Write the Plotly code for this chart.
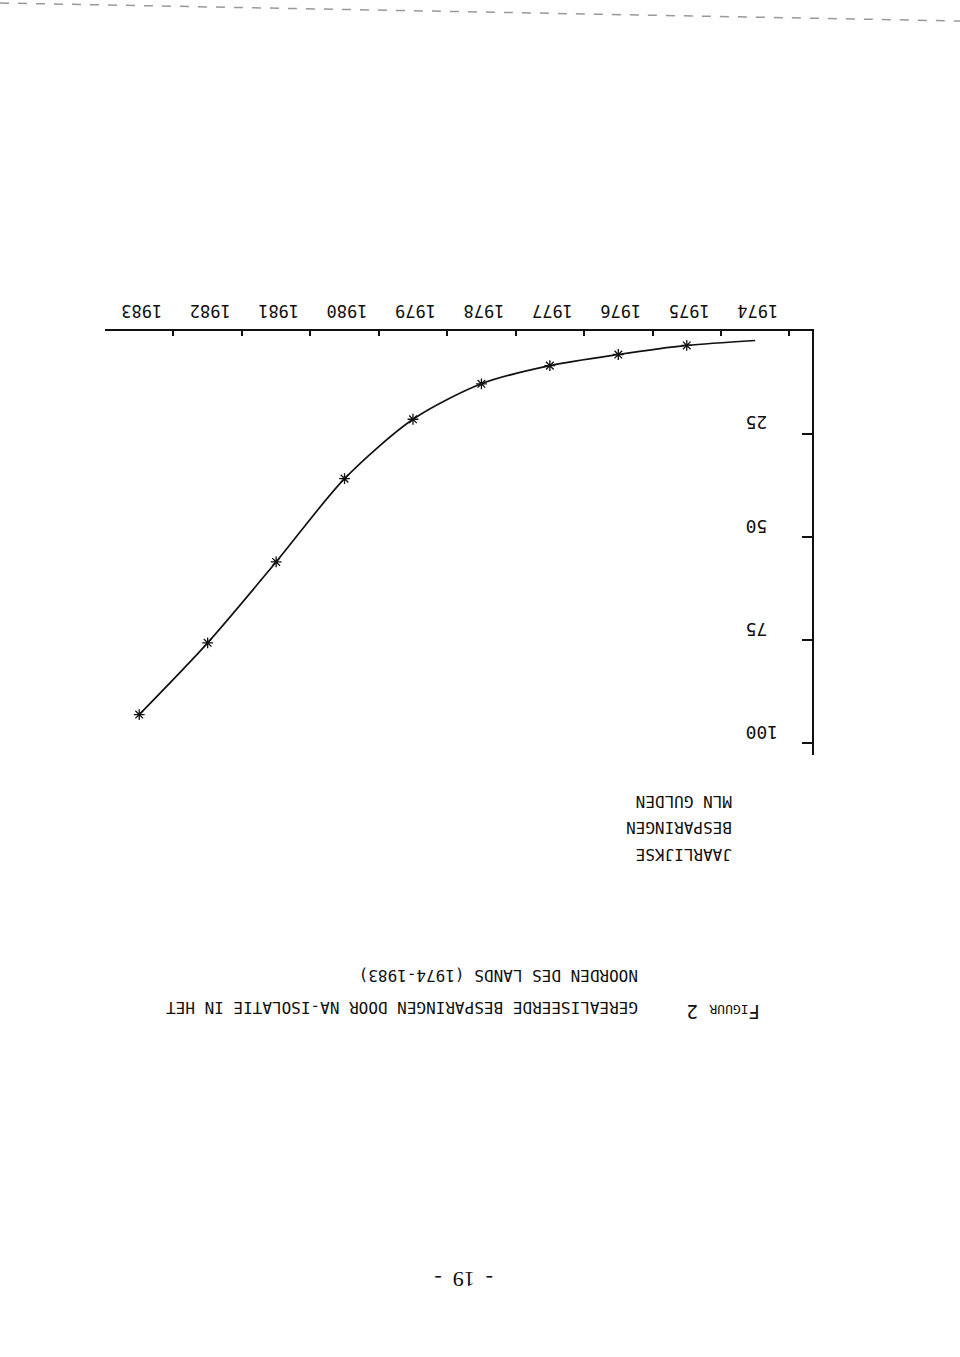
import plotly.graph_objects as go

# ---- data (read from the scanned, upside-down figure) ----
years = [1974, 1975, 1976, 1977, 1978, 1979, 1980, 1981, 1982, 1983]
savings = [2.3, 3.5, 5.7, 8.4, 12.8, 21.4, 35.8, 56.0, 75.6, 93.0]   # mln gulden
marked_years = years[1:]
marked_savings = savings[1:]
year_labels = [str(y) for y in years]
y_ticks = [25, 50, 75, 100]
y_title_lines = ["JAARLIJKSE", "BESPARINGEN", "MLN GULDEN"]
fig_label = "F<span style='font-size:13px'>IGUUR</span> 2"
title_lines = ["GEREALISEERDE BESPARINGEN DOOR NA-ISOLATIE IN HET",
               "NOORDEN DES LANDS (1974-1983)"]
page_number = "-  19  -"

W, H = 960, 1357
L, R, T, B = 105, 148, 331, 602
PW, PH = W - L - R, H - T - B


def px(x):
    return (x - L) / PW


def py(y):
    return (H - B - y) / PH


MONO = "DejaVu Sans Mono"
INK = "#111111"

fig = go.Figure()
fig.add_trace(go.Scatter(x=years, y=savings, mode="lines",
                         line=dict(color=INK, width=1.7, shape="spline", smoothing=0.8),
                         hoverinfo="skip", showlegend=False))
fig.add_trace(go.Scatter(x=marked_years, y=marked_savings, mode="markers",
                         marker=dict(symbol="asterisk-open", size=9, color=INK,
                                     line=dict(color=INK, width=1.3)),
                         showlegend=False))

fig.update_xaxes(side="top", range=[1983.5, 1973.17],
                 tickvals=years, ticktext=year_labels, ticks="",
                 tickangle=180, ticklabelshift=-23, ticklabeloverflow="allow",
                 tickfont=dict(family=MONO, size=17, color=INK),
                 showline=True, linecolor=INK, linewidth=2,
                 showgrid=False, zeroline=False,
                 minor=dict(tickvals=[y + 0.5 for y in [1973] + years[:-1]],
                            ticks="inside", ticklen=5, tickwidth=1.5, tickcolor=INK,
                            showgrid=False))
fig.update_yaxes(side="right", range=[102.8, 0],
                 tickvals=y_ticks, ticks="inside", ticklen=10, tickwidth=1.5,
                 tickcolor=INK, ticklabelposition="inside",
                 ticklabelstandoff=57, ticklabelshift=6, ticklabeloverflow="allow",
                 tickangle=180, tickfont=dict(family=MONO, size=18, color=INK),
                 showline=True, linecolor=INK, linewidth=2,
                 showgrid=False, zeroline=False)

ann = []
for txt, yc in zip(y_title_lines, [855, 828, 802]):
    ann.append(dict(text=txt, x=px(734), y=py(yc), xref="paper", yref="paper",
                    xanchor="right", yanchor="middle", textangle=180,
                    showarrow=False, font=dict(family=MONO, size=16, color=INK)))
for txt, yc in zip(title_lines, [1008, 976]):
    ann.append(dict(text=txt, x=px(640), y=py(yc), xref="paper", yref="paper",
                    xanchor="right", yanchor="middle", textangle=180,
                    showarrow=False, font=dict(family=MONO, size=16, color=INK)))
ann.append(dict(text=fig_label, x=px(762), y=py(1012), xref="paper", yref="paper",
                xanchor="right", yanchor="middle", textangle=180,
                showarrow=False, font=dict(family=MONO, size=19, color=INK)))
ann.append(dict(text=page_number, x=px(464), y=py(1280), xref="paper", yref="paper",
                xanchor="center", yanchor="middle", textangle=180,
                showarrow=False, font=dict(family="Liberation Serif", size=22, color=INK)))

fig.update_layout(width=W, height=H, margin=dict(l=L, r=R, t=T, b=B),
                  paper_bgcolor="white", plot_bgcolor="white",
                  annotations=ann,
                  shapes=[dict(type="line", xref="paper", yref="paper",
                               x0=px(0), y0=py(3), x1=px(960), y1=py(21),
                               line=dict(color="#999999", width=1.5, dash="dash"))])

fig.write_html("out.html")
